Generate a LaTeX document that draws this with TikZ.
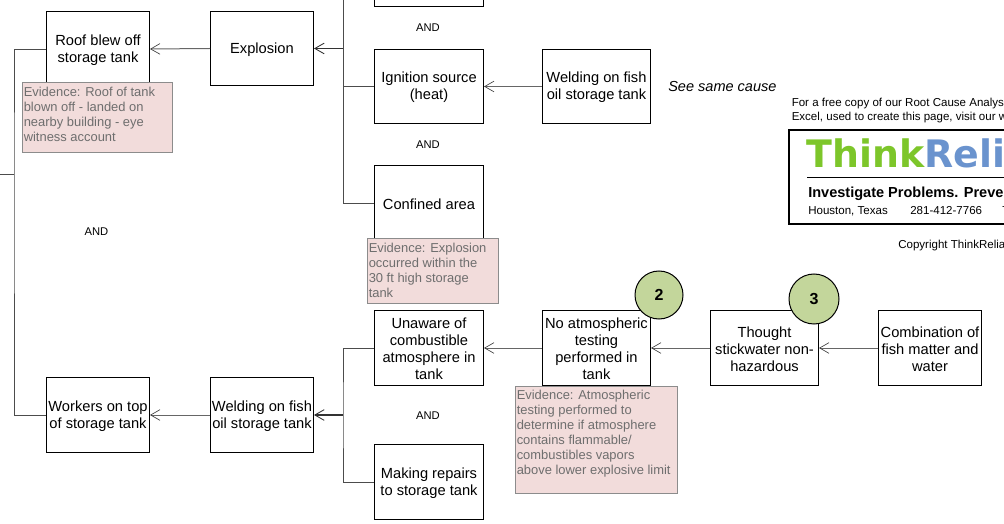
\documentclass[tikz,border=0pt]{standalone}
\usepackage{fontspec}
\setmainfont{Liberation Sans}
\newfontfamily\logofont{DejaVu Sans}
\usetikzlibrary{arrows.meta}
\definecolor{evfill}{HTML}{F2DCDB}
\definecolor{evedge}{HTML}{8C8C8C}
\definecolor{evtext}{HTML}{6E6E6E}
\definecolor{gfill}{HTML}{C3D69B}
\definecolor{lgreen}{HTML}{7DC62A}
\definecolor{lblue}{HTML}{6A93CE}
\tikzset{
  x=0.75pt,y=-0.75pt,
  cause/.style={draw=black,fill=white,line width=0.75pt,inner sep=0pt},
  causetxt/.style={align=center,inner sep=0pt,yshift=-0.6pt,font=\fontsize{11}{12.75}\selectfont},
  evid/.style={draw=evedge,fill=evfill,line width=0.75pt,inner sep=0pt},
  evtxt/.style={anchor=north west,align=left,inner sep=0pt,text=evtext,font=\fontsize{9.7}{11.25}\selectfont},
  andlbl/.style={inner sep=0pt,font=\fontsize{8.4}{10}\selectfont},
  conn/.style={draw=black!70,line width=0.7pt},
  arr/.style={draw=black!60,line width=0.75pt,-{Straight Barb[length=7pt,width=8pt,line width=0.5pt,black!75]}},
  arrb/.style={draw=black!80,line width=1pt,-{Straight Barb[length=7pt,width=8pt,line width=0.65pt]}},
  num/.style={circle,draw=black,fill=gfill,line width=0.75pt,inner sep=0pt,font=\bfseries\fontsize{12}{13}\selectfont},
  small/.style={inner sep=0pt,anchor=base west,font=\fontsize{8.65}{10}\selectfont},
}
\newcommand{\bx}[6]{\node[cause,minimum width=#4*0.75pt,minimum height=#5*0.75pt,anchor=north west] (#1) at (#2,#3) {};
\node[causetxt] (#1t) at (#1.center) {#6};}
\begin{document}
\begin{tikzpicture}
\useasboundingbox (0,0) rectangle (1004,524);
\clip (0,0) rectangle (1004,524);
% boxes
\bx{roof}{46}{11}{103}{75}{Roof blew off\\storage tank}
\bx{expl}{210}{11}{103}{74}{Explosion}
\bx{topb}{374}{-69}{109}{75}{}
\bx{ign}{374}{49}{109}{74}{Ignition source\\(heat)}
\bx{weld}{542}{49}{108}{74}{Welding on fish\\oil storage tank}
\bx{conf}{374}{165}{109}{75}{Confined area}
\bx{unaw}{374}{310}{109}{75}{Unaware of\\combustible\\atmosphere in\\tank}
\bx{noat}{542}{310}{108}{75}{No atmospheric\\testing\\performed in\\tank}
\bx{thou}{710}{310}{108}{75}{Thought\\stickwater non-\\hazardous}
\bx{comb}{878}{310}{103}{75}{Combination of\\fish matter and\\water}
\bx{work}{46}{377}{103}{75}{Workers on top\\of storage tank}
\bx{wel2}{210}{377}{103}{75}{Welding on fish\\oil storage tank}
\bx{rep}{374}{444}{109}{75}{Making repairs\\to storage tank}
% buses
\coordinate (busA) at (343,-5);
\coordinate (busB) at (343,415);
\coordinate (busL) at (14,174);
\coordinate (stub) at (-3,174);
\draw[conn] (busA) |- (conf.west);
\draw[conn] (ign.west) -- (ign.west -| busA);
\draw[conn] (unaw.west) -| (busB) |- (rep.west);
\draw[conn] (roof.west) -| (busL) |- (work.west);
\draw[conn] (busL) -- (stub);
\draw[arrb] (expl.east -| busA) -- (expl.east);
\draw[arrb] (wel2.east -| busB) -- (wel2.east);
\draw[arr] (expl.west) -- (roof.east);
\draw[arr] (wel2.west) -- (work.east);
\draw[arr] (weld.west) -- (ign.east);
\draw[arr] (noat.west) -- (unaw.east);
\draw[arr] (thou.west) -- (noat.east);
\draw[arr] (comb.west) -- (thou.east);
% evidence
\node[evid,minimum width=150*0.75pt,minimum height=70*0.75pt,anchor=north west] (ev1) at (22,82) {};
\node[evtxt] (ev1t) at (23.5,87) {Evidence: Roof of tank\\blown off - landed on\\nearby building - eye\\witness account};
\node[evid,minimum width=131*0.75pt,minimum height=65*0.75pt,anchor=north west] (ev2) at (367,238) {};
\node[evtxt] (ev2t) at (368.5,243) {Evidence: Explosion\\occurred within the\\30 ft high storage\\tank};
\node[evid,minimum width=162*0.75pt,minimum height=107*0.75pt,anchor=north west] (ev3) at (515,386) {};
\node[evtxt] (ev3t) at (516.5,390) {Evidence: Atmospheric\\testing performed to\\determine if atmosphere\\contains flammable/\\combustibles vapors\\above lower explosive limit};
% AND
\node[andlbl] (and1) at (428,27.5) {AND};
\node[andlbl] (and2) at (428,144.5) {AND};
\node[andlbl] (and3) at (96.5,231.5) {AND};
\node[andlbl] (and4) at (428,415.5) {AND};
% circles
\node[num,minimum size=48*0.75pt] (c2) at (659,295) {2};
\node[num,minimum size=50*0.75pt] (c3) at (814,299) {3};
% side note
\node[inner sep=0pt,anchor=west,font=\itshape\fontsize{10.9}{12}\selectfont] (same) at (668,86) {See same cause};
% logo block
\node[small] (free1) at (791.5,107) {For a free copy of our Root Cause Analys};
\node[small] (free2) at (791.5,121) {Excel, used to create this page, visit our w};
\draw[black,line width=0.8pt,fill=white] (789,130) rectangle (1010,224);
\node[inner sep=0pt,anchor=base west,font=\logofont\bfseries\fontsize{28.4}{32}\selectfont] (logo) at (806,168) {\textcolor{lgreen}{Think}\textcolor{lblue}{Relia}};
\coordinate (ruleA) at (807,178);
\coordinate (ruleB) at (1010,178);
\draw[black,line width=0.75pt] (ruleA) -- (ruleB);
\node[inner sep=0pt,anchor=west,font=\bfseries\fontsize{10.9}{12}\selectfont] (inv) at (808,193.5) {Investigate Problems. Preve};
\node[small] (hou) at (808,215) {Houston, Texas};
\node[small] (tel) at (910,215) {281-412-7766};
\node[small] (tt) at (1002,215) {T};
\node[small] (copy) at (898,249) {Copyright ThinkRelia};
\end{tikzpicture}
\end{document}
